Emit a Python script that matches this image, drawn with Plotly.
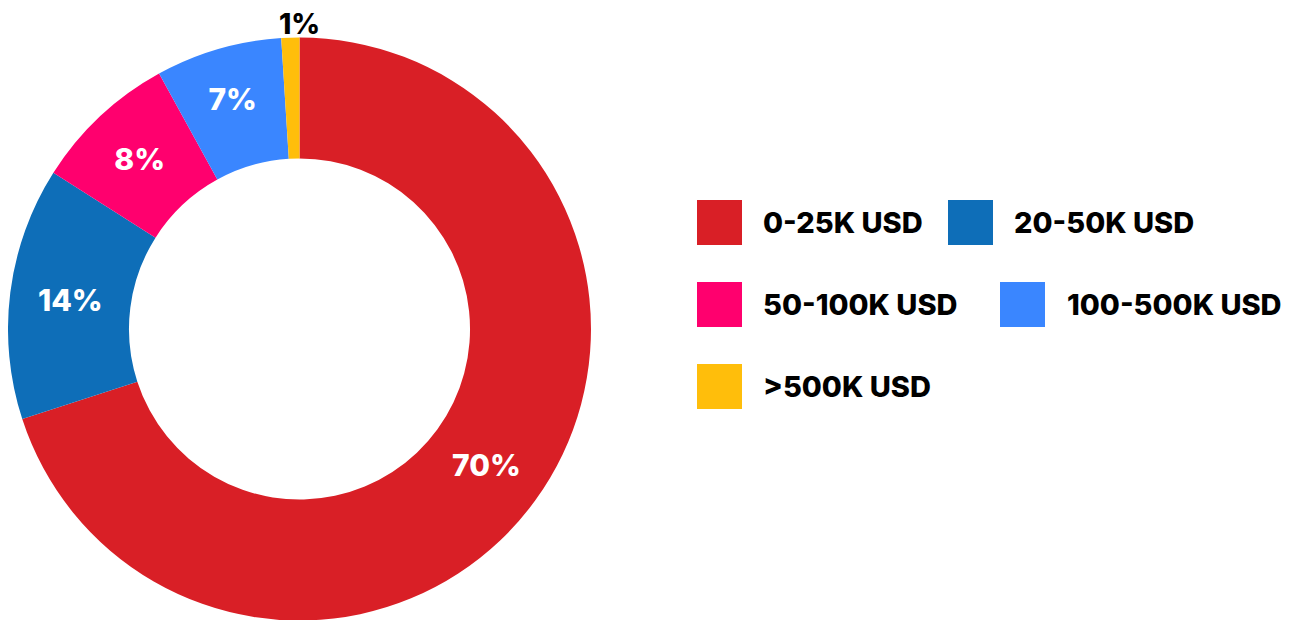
import plotly.graph_objects as go

# Datos
categorias = ['0-25K USD', '20-50K USD', '50-100K USD', '100-500K USD', '>500K USD']
porcentajes = [70, 14, 8, 7, 1]
colores = ['#D91F26', '#0E6EB8', '#FF006E', '#3A86FF', '#FFBE0B']
etiquetas = ['70%', '14%', '8%', '7%', '1%']

FUENTE = 'Inter'
W, H = 1292, 620
OFF = 8  # margen del body de la página html

dominio_x = [0, 583 / W]
dominio_y = [7 / H, 591 / H]

fig = go.Figure()

# La etiqueta de la porción más pequeña va fuera, sobre el anillo
texto_dentro = etiquetas[:-1] + ['']

fig.add_trace(go.Pie(
    labels=categorias,
    values=porcentajes,
    text=texto_dentro,
    textinfo='text',
    hole=0.585,
    sort=False,
    direction='clockwise',
    rotation=0,
    automargin=False,
    marker=dict(colors=colores, line=dict(width=0)),
    textposition='inside',
    insidetextorientation='horizontal',
    textfont=dict(family=FUENTE, size=30, weight=800, color='white'),
    domain=dict(x=dominio_x, y=dominio_y),
    showlegend=False,
))

fig.add_annotation(
    x=sum(dominio_x) / 2, y=1 - 35 / H, xref='paper', yref='paper',
    text=etiquetas[-1], showarrow=False, xanchor='center', yanchor='bottom',
    font=dict(family=FUENTE, size=28, weight=800, color='black'),
)

# Leyenda propia (cuadros grandes), en pixeles de la captura
pos_leyenda = [(697, 200, 764), (948, 200, 1015), (697, 282, 764),
               (1000, 282, 1068), (697, 364, 764)]

for cat, color, (x0, y0, xt) in zip(categorias, colores, pos_leyenda):
    x0, y0, xt = x0 - OFF, y0 - OFF, xt - OFF - 3
    fig.add_shape(type='rect', xref='paper', yref='paper',
                  x0=x0 / W, x1=(x0 + 45) / W,
                  y0=1 - (y0 + 45) / H, y1=1 - y0 / H,
                  fillcolor=color, line=dict(width=0))
    fig.add_annotation(x=xt / W, y=1 - (y0 + 22.5) / H, xref='paper', yref='paper',
                       text=cat, showarrow=False, xanchor='left', yanchor='middle',
                       font=dict(family=FUENTE, size=29, weight=800, color='black'))

fig.update_layout(
    width=W, height=H,
    margin=dict(l=0, r=0, t=0, b=0, autoexpand=False),
    paper_bgcolor='white',
    plot_bgcolor='white',
)

fig.write_html("out.html")
